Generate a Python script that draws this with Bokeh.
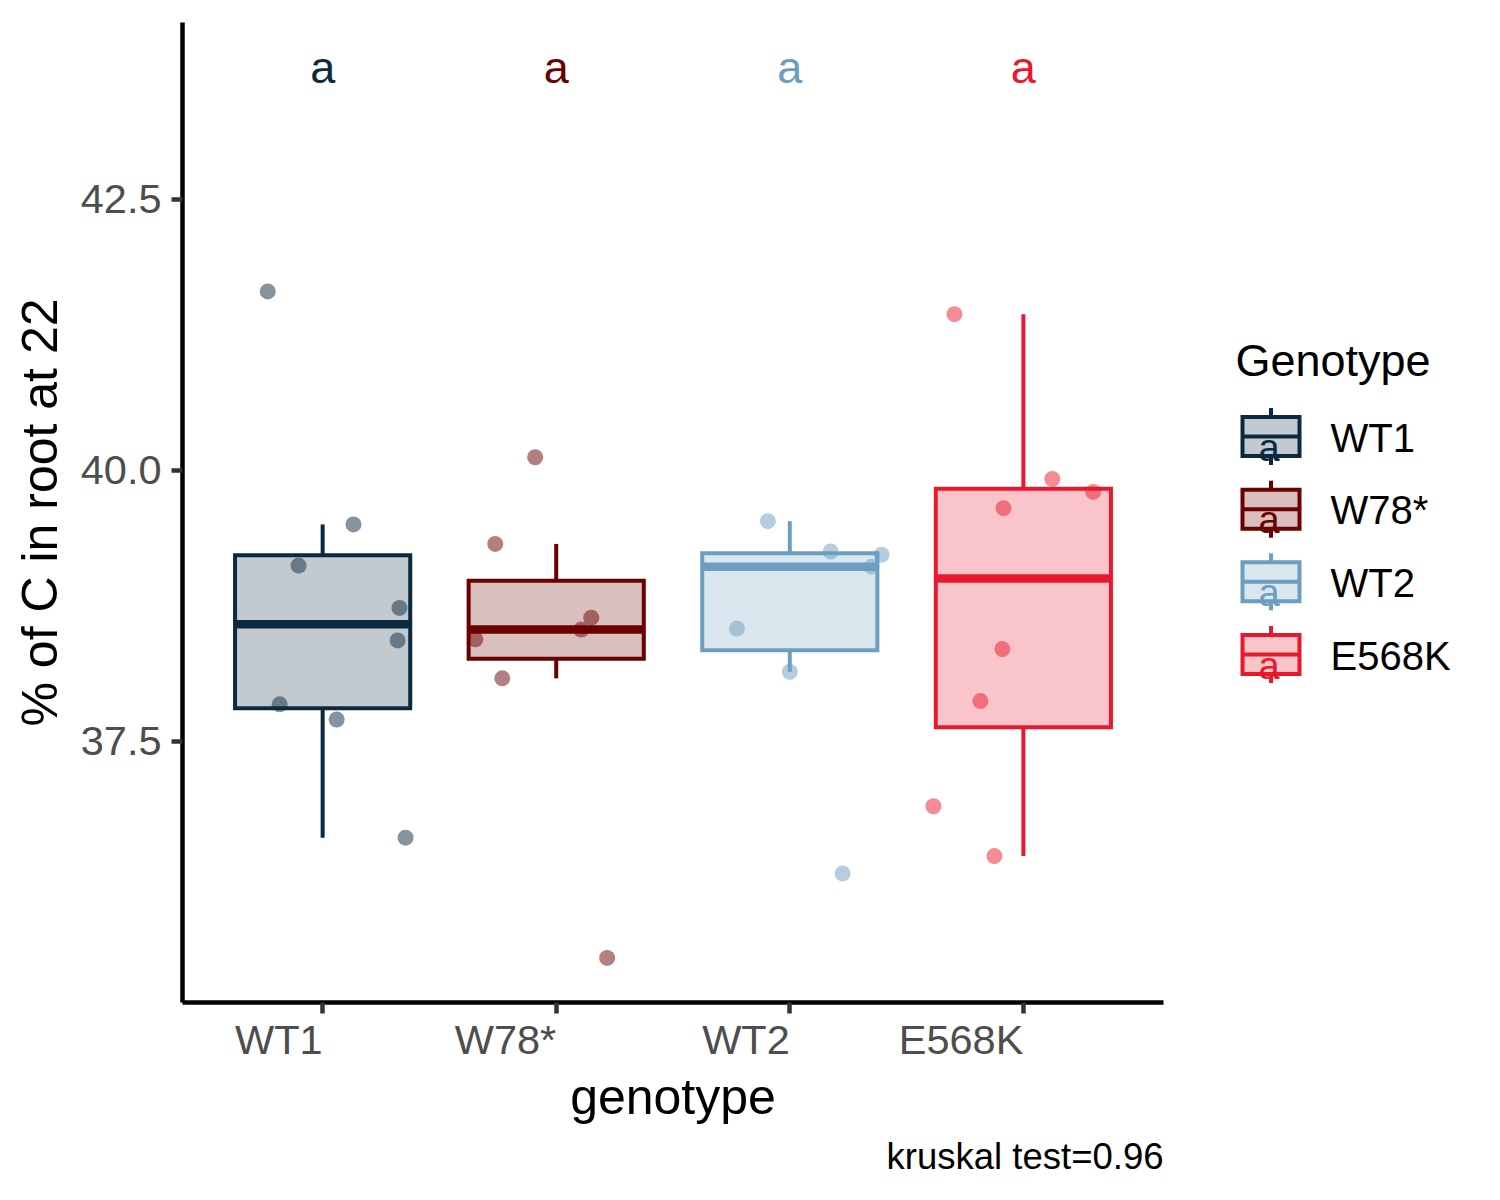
import numpy as np
from bokeh.plotting import figure
from bokeh.models import Range1d, FixedTicker, PrintfTickFormatter, Title
from bokeh.layouts import row
from bokeh.embed import file_html
from bokeh.resources import INLINE
from bokeh.core.properties import value

# ---------------- data ----------------
genotypes = ["WT1", "W78*", "WT2", "E568K"]
colors = ["#0b2a40", "#6a0000", "#6c9ec0", "#e8192c"]

wt1_vals = [41.65, 39.50, 39.12, 38.73, 38.43, 37.84, 37.70, 36.61]
wt1_jit = [-0.235, 0.132, -0.103, 0.329, 0.321, -0.184, 0.060, 0.355]

w78_vals = [40.12, 39.32, 38.64, 38.53, 38.44, 38.08, 35.50]
w78_jit = [-0.090, -0.261, 0.150, 0.107, -0.346, -0.231, 0.218]

wt2_vals = [39.53, 39.25, 39.22, 39.11, 38.54, 38.14, 36.28]
wt2_jit = [-0.094, 0.175, 0.393, 0.350, -0.226, 0.000, 0.226]

e568k_vals = [41.44, 39.92, 39.80, 39.65, 38.35, 37.87, 36.90, 36.44]
e568k_jit = [-0.295, 0.124, 0.299, -0.085, -0.090, -0.184, -0.385, -0.124]

sig_letters = ["a", "a", "a", "a"]
letter_y = 43.72
y_ticks = [37.5, 40.0, 42.5]
x_title = "genotype"
y_title = "% of C in root at 22"
legend_title = "Genotype"
caption = "kruskal test=0.96"

groups = [wt1_vals, w78_vals, wt2_vals, e568k_vals]
jitters = [wt1_jit, w78_jit, wt2_jit, e568k_jit]

# ---------------- stats ----------------
xs = np.arange(1, len(genotypes) + 1, dtype=float)
q1s, meds, q3s, los, his = [], [], [], [], []
for vals in groups:
    v = np.asarray(vals)
    q1, md, q3 = np.percentile(v, [25, 50, 75])
    iqr = q3 - q1
    los.append(v[v >= q1 - 1.5 * iqr].min())
    his.append(v[v <= q3 + 1.5 * iqr].max())
    q1s.append(q1); meds.append(md); q3s.append(q3)

pts_x, pts_y, pts_c = [], [], []
for i, (vals, jit) in enumerate(zip(groups, jitters)):
    for v, j in zip(vals, jit):
        pts_x.append(xs[i] + j); pts_y.append(v); pts_c.append(colors[i])

FONT = "Liberation Sans"
W_MAIN, W_LEG, H = 1188, 304, 1190
BL, BR, BT, BB = 182, 25, 22, 188
FRAME_TOP, FRAME_BOTTOM = BT, H - BB

all_vals = np.concatenate([np.asarray(g) for g in groups])
lo, hi = all_vals.min(), letter_y
span = hi - lo
y_lo, y_hi = lo - 0.05 * span, hi + 0.05 * span
x_lo, x_hi = 0.4, len(genotypes) + 0.6

p = figure(width=W_MAIN, height=H, x_range=Range1d(x_lo, x_hi),
           y_range=Range1d(y_lo, y_hi), output_backend="svg",
           toolbar_location=None, min_border_left=BL, min_border_right=BR,
           min_border_top=BT, min_border_bottom=BB)
p.outline_line_color = None
p.grid.visible = False

for ax in (p.xaxis[0], p.yaxis[0]):
    ax.axis_line_width = 4.5
    ax.axis_line_color = "black"
    ax.major_tick_line_width = 4.5
    ax.major_tick_line_color = "#333333"
    ax.major_tick_out = 11
    ax.major_tick_in = 0
    ax.minor_tick_line_color = None
    ax.axis_label_text_font = FONT
    ax.axis_label_text_font_size = "50px"
    ax.axis_label_text_font_style = "normal"
    ax.axis_label_text_color = "black"
    ax.major_label_text_font = FONT
    ax.major_label_text_font_size = "41.5px"
    ax.major_label_text_color = "#4d4d4d"

p.yaxis.ticker = FixedTicker(ticks=y_ticks)
p.yaxis.formatter = PrintfTickFormatter(format="%.1f")
p.yaxis.major_label_standoff = 10
p.yaxis.axis_label = y_title
p.yaxis.axis_label_standoff = 10

p.xaxis.ticker = FixedTicker(ticks=list(xs))
p.xaxis.major_label_overrides = {int(x): g for x, g in zip(xs, genotypes)}
# a (practically zero) positive angle makes Bokeh right-align the labels on
# their ticks, like the original's hjust = 1
p.xaxis.major_label_orientation = 1e-4
p.xaxis.major_label_standoff = 26
p.xaxis.axis_label = x_title
p.xaxis.axis_label_standoff = -21

# caption under the x axis, right-aligned with the plot panel
p.add_layout(Title(text=caption, align="right", text_font=FONT,
                   text_font_size="36.5px", text_font_style="normal",
                   text_color="black", standoff=13, offset=0), "below")

# whiskers
p.segment(x0=xs, y0=q3s, x1=xs, y1=his, line_color=colors, line_width=4)
p.segment(x0=xs, y0=q1s, x1=xs, y1=los, line_color=colors, line_width=4)
# boxes
p.vbar(x=xs, width=0.75, top=q3s, bottom=q1s, fill_color=colors, fill_alpha=0.25,
       line_color=colors, line_width=4, line_join="miter")
# medians
p.segment(x0=xs - 0.375, x1=xs + 0.375, y0=meds, y1=meds, line_color=colors,
          line_width=8.5)
# jittered points
p.scatter(x=pts_x, y=pts_y, size=16, fill_color=pts_c, fill_alpha=0.5,
          line_color=None)
# significance letters
p.text(x=xs, y=[letter_y] * len(xs), text=sig_letters, text_color=colors,
       text_font=value(FONT), text_font_size="45px", text_align="center",
       text_baseline="middle")

# ---------------- legend panel ----------------
# the row aligns this panel's frame with the main plot frame, so its ranges
# are set to page pixels over that same vertical span
leg = figure(width=W_LEG, height=H, x_range=Range1d(W_MAIN, W_MAIN + W_LEG),
             y_range=Range1d(FRAME_BOTTOM, FRAME_TOP), output_backend="svg",
             toolbar_location=None, min_border=0, x_axis_type=None,
             y_axis_type=None)
leg.outline_line_color = None
leg.grid.visible = False

cx, hw, hb, hwk = 1270.5, 28.5, 19.5, 28.5
cys = np.array([436 + 72.67 * i for i in range(len(genotypes))])
leg.segment(x0=[cx] * 4, x1=[cx] * 4, y0=cys - hwk, y1=cys - hb,
            line_color=colors, line_width=4)
leg.segment(x0=[cx] * 4, x1=[cx] * 4, y0=cys + hb, y1=cys + hwk,
            line_color=colors, line_width=4)
leg.quad(left=cx - hw, right=cx + hw, top=cys - hb, bottom=cys + hb,
         fill_color=colors, fill_alpha=0.25, line_color=colors, line_width=4,
         line_join="miter")
leg.segment(x0=[cx - hw] * 4, x1=[cx + hw] * 4, y0=cys, y1=cys,
            line_color=colors, line_width=4)
leg.text(x=[cx - 2] * 4, y=cys + 11, text=sig_letters, text_color=colors,
         text_font=value(FONT), text_font_size="38px", text_align="center",
         text_baseline="middle")
leg.text(x=[1330] * 4, y=cys + 1, text=genotypes, text_color="black",
         text_font=value(FONT), text_font_size="40px", text_align="left",
         text_baseline="middle")
leg.text(x=[1235], y=[359.5], text=[legend_title], text_color="black",
         text_font=value(FONT), text_font_size="45px", text_align="left",
         text_baseline="middle")

layout = row(p, leg)
open("out.html", "w").write(file_html(layout, INLINE))
